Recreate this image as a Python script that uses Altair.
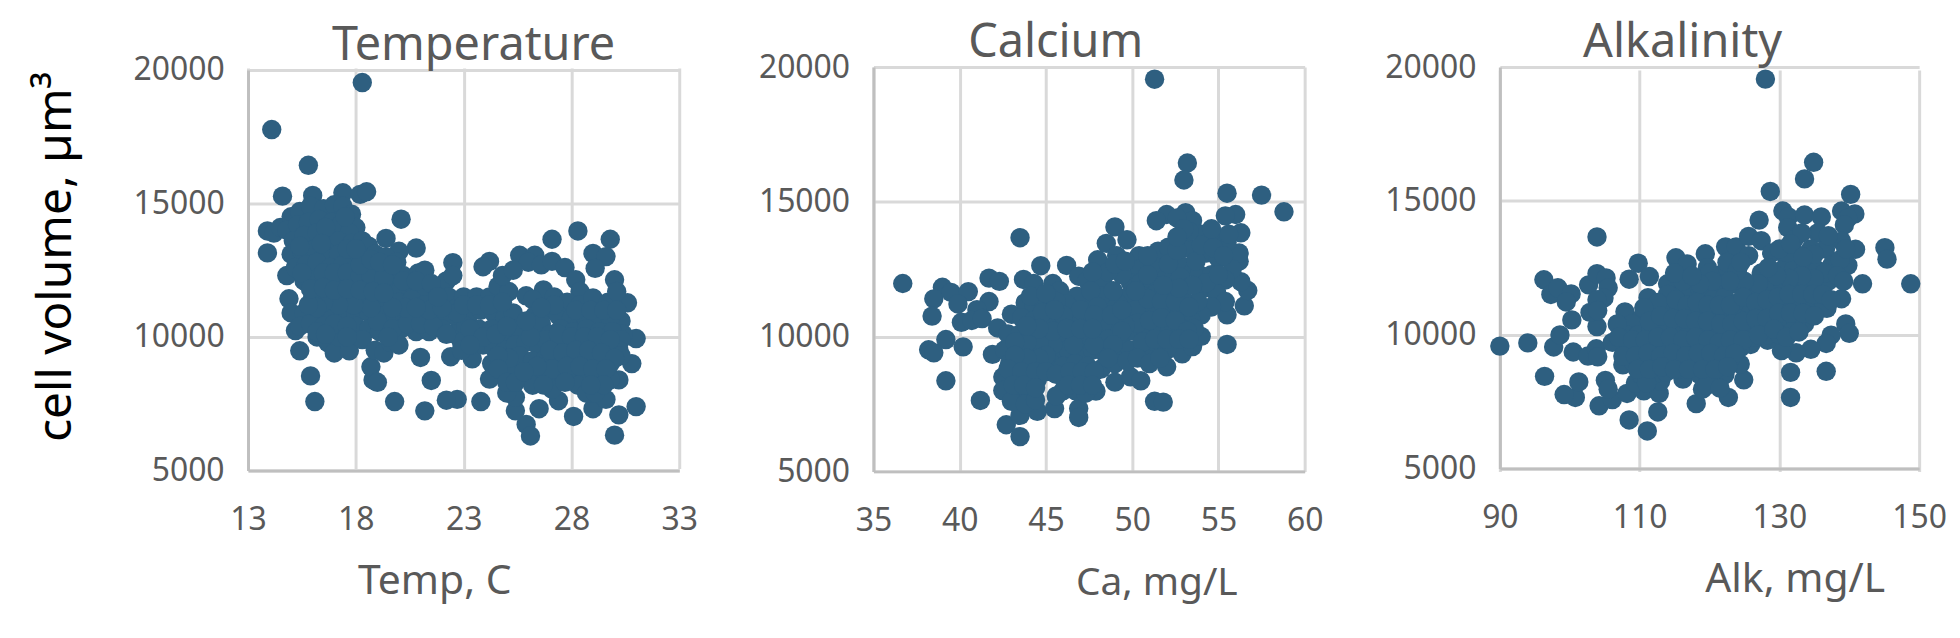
import altair as alt
import pandas as pd

temp_points = [
(18.3,19530),(14.1,17770),(15.8,16430),(14.6,15275),(16.0,15300),(17.4,15400),(18.2,15340),(18.5,15440),(20.1,14410),
(13.9,13970),(14.2,13890),(13.9,13150),(14.8,12300),(14.9,11430),(15.2,10240),(15.4,9480),(15.9,8540),(16.1,7580),
(19.4,13690),(20.8,13330),(20.0,13210),(22.5,12780),(24.2,12830),(23.9,12630),(27.1,13660),(28.3,13970),(29.8,13660),
(29.0,13130),(29.6,13010),(29.1,12570),(30.0,12140),(30.6,11280),(31.0,9940),(30.8,9000),(30.2,8390),(31.0,7390),
(30.2,7080),(30.0,6320),(29.0,7310),(28.1,7020),(27.4,7610),(26.5,7310),(25.9,6720),(26.1,6290),(25.4,7230),(23.8,7580),
(22.7,7660),(22.2,7630),(21.2,7230),(19.8,7580),(21.5,8370),(21.0,9230),(18.8,8390),(18.7,8880),(19.0,8300),
(14.5,14100),(15.0,14500),(15.4,14700),(15.9,14900),(16.5,14800),(17.0,14950),(17.4,14900),(17.8,14600),(18.0,14100),
(14.8,14000),(15.3,14200),(15.8,14300),(16.3,14400),(16.9,14300),(17.3,14200),(17.7,13900),
(15.1,13600),(15.6,13800),(16.2,13900),(16.7,13700),(17.2,13600),(17.8,13500),(18.3,13600),(18.6,13400),
(15.0,13100),(15.5,13200),(16.1,13300),(16.6,13200),(17.2,13100),(17.7,13000),(18.3,13000),(18.9,13100),(19.4,13000),(19.9,12800),
(15.2,12600),(15.7,12700),(16.2,12800),(16.8,12600),(17.4,12700),(17.9,12500),(18.5,12600),(19.1,12500),(19.6,12400),(20.2,12300),(20.9,12400),(21.2,12500),
(15.6,12100),(16.2,12200),(16.8,12000),(17.3,12200),(17.9,12000),(18.4,12100),(19.0,11900),(19.6,11900),(20.1,11800),(20.7,11900),(21.3,11700),(21.9,11900),(22.2,12100),(22.5,12300),
(16.0,11500),(16.6,11600),(17.2,11500),(17.7,11500),(18.4,11500),(18.9,11400),(19.5,11300),(20.0,11300),(20.6,11400),(21.2,11200),(21.8,11300),(22.3,11500),(22.7,11100),(23.0,11500),(23.6,11500),(24.2,11500),(24.6,11900),(25.1,11700),(24.8,12300),
(15.0,10900),(15.6,10900),(16.2,10900),(16.8,11000),(17.4,10900),(18.0,10900),(18.6,10900),(19.2,10800),(19.8,10700),(20.5,10900),(21.1,10800),(21.6,10700),(22.2,10800),(22.8,10600),(23.3,10900),(23.8,11000),(24.4,10900),(24.9,10700),(25.3,10900),
(15.4,10400),(15.9,10500),(16.5,10400),(18.0,10400),(18.6,10300),(19.1,10200),(20.1,10300),(20.8,10200),(21.4,10200),(22.0,10300),(22.6,10100),(23.1,10400),(23.7,10300),(24.3,10300),(24.9,10100),(25.4,10300),
(16.2,10000),(16.7,9790),(17.0,9400),(17.7,9480),(18.3,9900),(18.9,9500),(19.3,9400),(19.6,9800),(20.0,9700),(22.4,9260),(22.9,9800),(23.4,9180),(23.9,9700),(24.4,9600),(24.9,9500),(25.4,9700),
(24.3,9000),(24.9,8900),(25.3,9200),(24.2,8420),(25.2,8650),(25.4,7740),(25.0,7900),
(25.6,13060),(26.3,13060),(26.0,12800),(26.6,12700),(27.1,12830),(27.7,12600),(28.2,12140),(25.3,12500),(28.4,11700),
(25.9,11540),(26.7,11760),(26.2,11400),(27.2,11500),(27.8,11300),(28.4,11200),(29.0,11460),(29.7,11300),(30.1,11700),(30.3,10600),
(26.3,10800),(26.9,11000),(27.4,10800),(28.0,10700),(28.6,10800),(29.2,10800),(29.8,10700),(30.4,10100),
(26.2,10300),(27.5,10300),(28.1,10200),(28.7,10300),(29.3,10200),(29.9,10200),(30.3,9900),
(25.9,9800),(26.5,9600),(27.2,9700),(27.8,9700),(28.4,9800),(29.0,9700),(29.6,9600),(30.2,9500),
(25.6,9300),(26.2,9100),(26.8,9200),(27.4,9100),(28.0,9200),(28.6,9200),(29.2,9100),(29.8,9000),(30.3,9300),
(26.2,8600),(26.8,8500),(27.4,8500),(28.0,8600),(28.7,8600),(29.3,8500),(29.8,8400),(26.2,8190),(27.1,8040),(28.3,8190),(28.7,7890),(29.6,7660),(29.1,7900),
# dense fill
(16.2,10200),(17.2,10000),(17.0,10500),(17.6,10400),(17.6,10000),(16.6,10100),(19.0,10600),(19.7,10300),(19.5,10000),(20.4,10500),(21.0,10500),(21.6,10400),(22.2,10100),(22.7,10900),(23.3,10300),(22.9,9500),(23.9,10000),(24.5,10100),(25.0,10400),(25.1,9200),(24.6,9300),(23.3,9700),(24.6,8800),(25.0,8300),(25.4,8300),
(21.4,11000),(22.0,11100),(23.0,11200),(23.6,11200),(24.2,11200),(24.8,11300),(20.3,11100),(19.7,11100),(20.8,11100),(20.2,12100),(20.8,12100),(21.5,12000),(21.8,11500),(18.7,11100),(17.9,11200),(17.2,11200),(16.5,11300),(16.2,11100),(15.8,11200),
(26.6,10500),(27.0,10100),(26.8,9900),(27.4,10100),(28.0,10000),(28.6,10000),(29.2,10000),(29.8,9900),(26.1,10000),(25.9,10600),(27.0,9500),(27.6,9400),(28.2,9500),(28.8,9500),(29.4,9400),(30.0,9200),(27.1,8800),(27.8,8900),(28.4,8900),(29.0,8800),(29.6,8800),(26.4,8900),(25.8,8700),(28.2,11000),(28.9,11000),(29.5,11000),(30.1,11000),(27.2,11200),(26.6,11100),(29.5,8200),(28.9,8200),(27.7,8300),(26.7,8200),
(17.5,14500),(16.6,14100),(15.4,13400),(17.6,13300),(16.4,13500),(15.5,12400),(16.5,12400),(17.0,12400),(17.6,12400),(18.2,12300),(18.7,12300),(19.3,12200),(18.2,12700),(18.7,12900),(19.1,12800),(19.7,12700),(18.0,13300),
(15.9,11800),(16.5,11850),(17.0,11750),(17.6,11800),(18.2,11750),(18.8,11700),(19.3,11650),
]

ca_points = [
(51.3,19550),(53.2,16440),(53.0,15810),(55.5,15320),(57.5,15250),(58.8,14630),(49.0,14070),(43.5,13670),(44.7,12630),(36.7,11970),
(41.7,12170),(42.3,12050),(39.0,11830),(38.5,11400),(39.5,11640),(40.5,11670),(39.9,11210),(41.7,11300),(41.0,11000),(38.4,10760),(40.1,10530),(40.7,10600),(41.3,10670),
(39.2,9890),(38.2,9510),(38.5,9400),(40.2,9620),(42.2,10320),(41.9,9340),(39.2,8360),(41.2,7630),(42.7,6730),(43.5,6290),(43.5,7080),(44.5,7230),(45.5,7330),
(46.9,7330),(46.9,7000),(47.9,7980),(49.0,8310),(49.9,8510),(50.5,8360),(51.3,7600),(51.8,7570),(52.0,8880),(52.9,9360),(53.5,9630),(54.0,10010),(55.5,9710),(55.5,10810),
(56.5,11140),(56.7,11710),(56.3,12040),(56.2,12800),(56.2,13100),(56.3,13850),(56.0,14530),(55.4,14480),(53.1,14600),(52.0,14530),(51.4,14300),(53.5,14300),(54.0,13800),
(43.0,10830),(43.8,11260),(43.7,12120),(44.3,11970),(45.4,11970),(45.8,11700),(46.2,12640),(46.9,12240),(47.4,12090),(48.3,11970),(48.0,12850),(48.5,13460),(49.1,13000),(49.7,13590),(50.4,13000),(51.5,13170),(52.1,13320),
(53.2,13300),(54.8,13700),(55.5,13500),(54.3,13100),(55.0,12900),(55.8,12500),(53.3,12600),(52.6,12800),(51.3,12600),(50.4,12500),(49.9,12000),(50.5,12000),(51.2,12000),(52.0,12200),(52.8,12200),
(53.9,12300),(54.6,12300),(55.4,12100),(54.2,11800),(54.9,11600),(55.4,11300),(54.6,11100),(54.0,10800),(53.8,11300),(52.9,11500),(52.2,11600),(51.4,11600),(50.6,11500),(49.8,11500),(49.2,11200),(48.6,11100),
(47.4,11300),(46.8,11500),(46.2,11200),(45.6,11300),(45.0,11100),(44.3,11200),(43.6,10700),(44.3,10600),(45.0,10500),(45.7,10700),(46.4,10600),(47.1,10700),(47.8,10500),(49.0,10600),(49.8,10800),(50.6,10900),(51.3,11000),(52.0,11000),(52.8,10900),(53.4,10600),
(42.8,10100),(43.5,10100),(44.2,10000),(45.2,9900),(46.0,10100),(46.8,10000),(47.5,10000),(48.3,9900),(49.4,10000),(50.1,10200),(50.8,10100),(51.5,10300),(52.2,10300),(52.9,10300),(53.6,10300),
(42.6,9500),(43.3,9600),(44.0,9500),(44.9,9500),(45.6,9400),(46.3,9500),(47.0,9500),(47.7,9500),(48.4,9400),(49.2,9400),(49.9,9500),(50.6,9500),(51.3,9500),(52.0,9500),
(42.9,9000),(43.6,9000),(44.3,8900),(45.3,9000),(46.0,8900),(46.7,9000),(47.4,8900),(48.2,8800),(49.0,9000),(49.7,9100),(50.8,9200),
(42.5,8500),(43.2,8500),(43.9,8500),(44.5,8400),(46.1,8400),(46.8,8500),(47.5,8400),(42.5,8000),(43.3,8000),(44.0,7900),(46.0,8000),(46.7,8000),(47.3,7900),(45.6,7800),(43.0,7600),(43.8,7500),(44.4,7650),
# dense fill
(48.2,11500),(48.9,11700),(49.4,12300),(48.6,12400),(49.0,12700),(47.7,12400),(49.6,12800),(50.9,13000),(50.9,12300),(52.1,12700),(52.6,13200),(53.7,12800),(54.0,13400),(54.7,13300),(55.3,13000),(55.6,13800),(53.3,13900),(54.6,14000),(52.6,14400),(53.0,14000),(52.6,13700),
(47.0,11000),(46.0,10800),(44.8,10900),(47.6,11700),(48.0,11100),(48.9,10300),(48.3,10500),(48.6,9900),(47.8,10800),(50.2,11000),(50.9,11400),(51.7,11300),(52.5,11300),(53.3,11100),(50.3,10500),(51.0,10600),(51.7,10700),(52.5,10600),(53.2,10200),(49.6,10400),(48.8,10800),(49.4,11000),
(54.3,12000),(55.0,12300),(53.5,11900),(52.7,11800),(51.8,11900),(50.2,11700),(49.4,10200),(50.6,9800),(51.3,9900),(52.0,9900),(52.7,9900),(53.3,9900),(48.9,9700),(47.8,9700),(46.6,9700),(45.4,9700),(44.6,9800),(43.9,9800),(43.2,9800),
(50.3,9200),(51.0,9000),(51.6,9200),(45.0,9300),(44.6,9200),(43.9,9200),(43.2,9300),(42.8,8800),(43.6,8700),(44.4,8700),(45.0,8700),(45.6,8600),(46.4,8700),(47.1,8700),(47.8,8700),(48.6,9200),(43.1,8200),(43.7,8200),(44.4,8100),(46.3,8200),(47.0,8200),(47.7,8200),
(45.4,10200),(46.2,10300),(47.0,10300),(47.7,10300),(44.6,10300),(43.9,10400),(44.1,11500),(45.0,11600),(45.5,11000),
]

alk_points = [
(128.0,19550),(134.9,16440),(133.6,15820),(128.7,15350),(140.2,15240),(127.1,14280),(130.5,14620),(131.3,14400),(133.6,14470),(136.0,14400),(138.9,14620),(140.8,14510),(139.8,14350),(103.9,13650),
(145.1,13250),(145.4,12820),(148.8,11900),(141.9,11900),(138.9,11340),(139.5,10400),(140.0,10050),(137.4,9980),(136.7,9670),(134.5,9450),(132.4,9320),(130.3,9400),(136.7,8630),(131.6,8590),(131.6,7650),
(124.9,8310),(124.4,8900),(122.7,7650),(118.1,7420),(112.6,7110),(111.1,6400),(108.5,6810),(104.2,7340),(106.1,7570),(108.2,7800),(110.6,7900),(112.8,7800),(105.1,8290),(105.5,7960),
(100.8,7650),(99.2,7760),(101.3,8230),(96.4,8440),(90.0,9570),(94.0,9690),(97.7,9540),(98.6,9990),(100.5,9350),(102.6,9200),(103.8,9470),(104.0,9170),(100.3,10550),(96.3,12050),(97.3,11500),(98.3,11750),(100.2,11520),(99.5,11220),
(103.9,10300),(102.9,10830),(102.7,11860),(103.9,12280),(105.2,12120),(105.5,11750),(104.9,11370),(103.9,11300),(104.0,10900),(109.8,12670),(108.5,12070),(111.4,12170),(111.2,11380),(107.9,10850),(106.1,9710),(107.6,8870),(109.4,8190),
(113.0,8260),(116.2,8340),(119.0,7960),(121.2,8110),(125.9,9630),(128.3,9790),(133.6,10400),(136.8,10980),(114.0,11900),(115.2,12870),(116.8,12640),(119.4,13020),(119.7,12500),(122.3,13280),(123.8,13280),(125.6,12950),(125.6,13670),(127.4,13510),(128.9,13050),(127.4,12300),
(131.2,14000),(132.1,13550),(135.5,13800),(139.3,14100),(138.9,13490),(140.9,13190),(139.8,12590),(136.6,13200),(134.5,13200),(132.5,13000),(131.0,12900),(130.3,12400),(132.0,12400),(133.8,12500),(135.5,12400),(137.5,12600),(138.7,12800),
(129.0,11900),(130.6,11800),(132.2,11800),(134.0,11900),(135.6,11700),(137.0,12000),(125.6,11600),(127.2,11500),(123.8,11900),(122.0,12300),(121.0,11900),(122.5,12700),(117.5,11800),(116.0,11500),(119.0,11500),(120.5,11300),(122.2,11400),(124.2,11200),
(126.0,10900),(127.8,10900),(129.5,11100),(131.3,11200),(133.0,11100),(134.6,11100),(136.3,11000),(114.0,11000),(115.6,10900),(117.2,10900),(118.9,10800),(120.6,10700),(122.4,10800),(124.0,10600),(112.0,10800),(110.2,10600),(108.9,10400),
(125.6,10200),(127.2,10300),(129.0,10500),(130.8,10500),(132.4,10500),(108.0,10000),(109.8,10000),(111.6,10200),(113.4,10300),(115.2,10200),(117.0,10400),(118.8,10200),(120.6,10100),(122.4,10100),(124.0,10000),(126.5,9900),(128.4,10000),(130.0,10000),(131.8,10100),
(108.4,9500),(110.2,9500),(112.0,9600),(113.8,9500),(115.6,9600),(117.4,9500),(119.2,9600),(121.0,9600),(122.8,9400),(124.4,9500),(109.0,9000),(110.8,8950),(112.6,9000),(114.4,9000),(116.2,8900),(118.0,9000),(119.8,9100),(121.6,8950),(123.0,9100),
(110.2,8500),(112.0,8500),(113.8,8600),(115.6,8700),(118.6,8500),(120.4,8400),(122.2,8500),(119.6,8100),(121.5,8000),(111.0,8200),
# dense fill
(130.0,13200),(133.2,13800),(135.0,13000),(137.0,13700),(139.5,13200),(131.6,13400),(133.4,12900),(136.5,12300),(138.3,12200),(139.2,12000),(135.0,12100),(133.2,12200),(131.4,12100),(129.6,12200),(128.4,12500),(127.0,11900),(125.0,12000),(124.0,12400),(122.9,12000),(124.5,12700),(120.0,12300),(120.4,12000),(118.6,11900),(116.2,12000),(115.0,12300),(117.5,12200),
(114.0,11500),(112.6,11200),(115.2,11300),(116.8,11100),(118.2,11200),(119.8,11100),(121.4,11100),(123.0,11100),(124.8,11400),(126.6,11200),(128.2,11300),(129.8,11400),(131.4,11500),(133.2,11500),(134.8,11500),(136.2,11500),(137.4,11300),
(110.6,11000),(111.4,10500),(113.0,10700),(114.8,10600),(116.4,10600),(118.0,10500),(119.7,10500),(121.6,10400),(123.2,10400),(124.8,10500),(126.6,10600),(128.2,10600),(129.9,10800),(131.6,10800),(133.4,10800),(135.0,10700),
(106.8,10400),(107.0,9900),(109.0,9800),(110.8,9800),(112.6,9900),(114.4,9900),(116.2,9800),(118.0,9900),(119.8,9800),(121.4,9700),(123.0,9800),(124.8,9800),(127.0,10000),(129.2,10200),(131.0,9900),(132.8,10100),
(107.6,9200),(109.4,9200),(111.2,9300),(113.0,9200),(114.8,9300),(116.6,9200),(118.4,9300),(120.2,9300),(122.0,9200),(123.6,9300),(109.7,8700),(111.4,8700),(113.2,8800),(115.0,8700),(117.0,8700),(119.0,8700),(120.8,8700),(122.6,8800),
]

BLUE = "#2E5F80"
GRID = "#D9D9D9"
AXIS = "#BFBFBF"
TEXT = "#595959"
FONT = "Noto Sans"
VIEW_H = 406


def panel(points, xdom, xticks, title, title_dx, xlabel, xtitle_x, xtitle_size, width, plot_w, yrange, x_offset, yaxis_title=None):
    df = pd.DataFrame(points, columns=["x", "y"])
    if yaxis_title:
        y_kwargs = dict(title=yaxis_title, titleColor="black", titleFontSize=48, titleFont=FONT,
                        titleFontWeight="normal", titleAngle=270, titleX=-192, titleY=190,
                        titleBaseline="middle", titleAlign="center")
    else:
        y_kwargs = dict(title=None)
    return alt.Chart(df).mark_circle(size=380, color=BLUE, opacity=1).encode(
        x=alt.X("x:Q", scale=alt.Scale(domain=xdom, range=[0, plot_w], nice=False, zero=False),
                axis=alt.Axis(values=xticks, title=xlabel, titleX=xtitle_x, titleY=112, titleFont=FONT,
                              titleFontSize=xtitle_size, titleFontWeight="normal", titleColor=TEXT,
                              titleBaseline="middle", titleAlign="center", offset=x_offset,
                              grid=True, gridColor=GRID, gridWidth=3, ticks=False,
                              domainColor=AXIS, domainWidth=3,
                              labelFont=FONT, labelFontSize=32, labelColor=TEXT, labelPadding=34,
                              labelFlush=False, labelOverlap=False)),
        y=alt.Y("y:Q", scale=alt.Scale(domain=[5000, 20000], range=yrange, nice=False, zero=False),
                axis=alt.Axis(values=[5000, 10000, 15000, 20000], grid=True, gridColor=GRID, gridWidth=3,
                              ticks=False, domainColor=AXIS, domainWidth=3, format="d",
                              labelFont=FONT, labelFontSize=32, labelColor=TEXT, labelPadding=24,
                              **y_kwargs)),
    ).properties(
        width=width, height=VIEW_H,
        title=alt.TitleParams(title, font=FONT, fontSize=47, fontWeight="normal", color=TEXT,
                              dx=title_dx, offset=-16),
    )


p1 = panel(temp_points, [13, 33], [13, 18, 23, 28, 33], "Temperature", 10, "Temp, C", 187, 41, 433, 433, [405, 3], -1,
           yaxis_title="cell volume, µm³")
p2 = panel(ca_points, [35, 60], [35, 40, 45, 50, 55, 60], "Calcium", -34, "Ca, mg/L", 284, 39, 434, 433, [406, 0], 0)
p3 = panel(alk_points, [90, 150], [90, 110, 130, 150], "Alkalinity", -27, "Alk, mg/L", 296, 41, 421, 421, [403, 0], -3)

chart = alt.hconcat(p1, p2, p3, spacing=195, bounds="flush").properties(
    padding={"left": 25, "top": 10, "right": 5, "bottom": 30}).configure_view(stroke=None)
chart.save("out.html", embed_options={"renderer": "svg", "actions": False})
